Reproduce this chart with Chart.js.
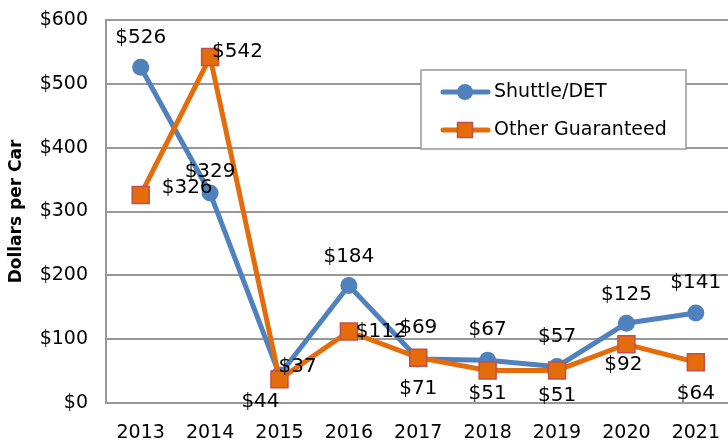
<!DOCTYPE html>
<html>
<head>
<meta charset="utf-8">
<script src="https://cdn.jsdelivr.net/npm/chart.js@4/dist/chart.umd.min.js"></script>
<style>
html, body { margin: 0; padding: 0; overflow: hidden; background: #fff; }
#wrap { width: 728px; height: 443px; overflow: hidden; }
</style>
</head>
<body>
<div id="wrap"><canvas id="chart" width="744" height="443"></canvas></div>
<script>
const years = ["2013", "2014", "2015", "2016", "2017", "2018", "2019", "2020", "2021"];
const shuttle = [526, 329, 44, 184, 69, 67, 57, 125, 141];
const otherGuaranteed = [326, 542, 37, 112, 71, 51, 51, 92, 64];
const seriesNames = ["Shuttle/DET", "Other Guaranteed"];

// where each value label sits relative to its point: [dx, dy, align]
const shuttleLabelPos = [[0,-29,"center"],[0,-21,"center"],[-19,27,"center"],[0,-29,"center"],[0,-31,"center"],[0,-30,"center"],[0,-30,"center"],[0,-28,"center"],[0,-30,"center"]];
const otherLabelPos = [[21,-7,"left"],[2,-5,"left"],[-1,-13,"left"],[7,0,"left"],[0,31,"center"],[0,23,"center"],[0,25,"center"],[-3,21,"center"],[0,32,"center"]];

const FONT = "'DejaVu Sans', sans-serif";
const BLUE = "#4F81BD";
const ORANGE = "#E46C0A";
const GRID = "#989898";

//draws the "$xxx" labels next to each point
const valueLabels = {
    id: "valueLabels",
    afterDatasetsDraw(chart)
    {
        const ctx = chart.ctx;
        const positions = [shuttleLabelPos, otherLabelPos];
        ctx.save();
        ctx.font = "20px " + FONT;
        ctx.fillStyle = "#000";
        ctx.textBaseline = "middle";
        chart.data.datasets.forEach((ds, i) => {
            const meta = chart.getDatasetMeta(i);
            meta.data.forEach((pt, j) => {
                const p = positions[i][j];
                ctx.textAlign = p[2];
                ctx.fillText("$" + ds.data[j], pt.x + p[0], pt.y + p[1]);
            });
        });
        ctx.restore();
    }
};

//legend box inside the plot
const boxLegend = {
    id: "boxLegend",
    afterDraw(chart)
    {
        const ctx = chart.ctx;
        ctx.save();
        ctx.fillStyle = "#fff";
        ctx.fillRect(421, 70, 265, 79);
        ctx.strokeStyle = GRID;
        ctx.lineWidth = 1.5;
        ctx.strokeRect(421, 70, 265, 79);
        const rows = [92, 130];
        chart.data.datasets.forEach((ds, i) => {
            const y = rows[i];
            ctx.strokeStyle = ds.borderColor;
            ctx.lineWidth = 5;
            ctx.lineCap = "round";
            ctx.beginPath();
            ctx.moveTo(443, y);
            ctx.lineTo(488, y);
            ctx.stroke();
            if (ds.pointStyle == "circle")
            {
                ctx.fillStyle = ds.pointBackgroundColor;
                ctx.beginPath();
                ctx.arc(465, y, 8, 0, Math.PI * 2);
                ctx.fill();
            } else
            {
                ctx.fillStyle = ds.pointBackgroundColor;
                ctx.fillRect(457.5, y - 7.5, 15, 15);
                ctx.strokeStyle = ds.pointBorderColor;
                ctx.lineWidth = 1.5;
                ctx.strokeRect(457.5, y - 7.5, 15, 15);
            }
            ctx.fillStyle = "#000";
            ctx.font = "19px " + FONT;
            ctx.textAlign = "left";
            ctx.textBaseline = "middle";
            ctx.fillText(ds.label, 494, y);
        });
        ctx.restore();
    }
};

const data = {
    labels: years,
    datasets: [
        {
            label: seriesNames[0],
            data: shuttle,
            borderColor: BLUE,
            backgroundColor: BLUE,
            borderWidth: 5,
            pointStyle: "circle",
            pointRadius: 8.5,
            pointBackgroundColor: BLUE,
            pointBorderColor: BLUE,
            pointBorderWidth: 0,
            tension: 0,
            order: 2
        },
        {
            label: seriesNames[1],
            data: otherGuaranteed,
            borderColor: ORANGE,
            backgroundColor: ORANGE,
            borderWidth: 5,
            pointStyle: "rect",
            pointRadius: 12,
            pointBackgroundColor: ORANGE,
            pointBorderColor: "#C0504D",
            pointBorderWidth: 1.5,
            tension: 0,
            order: 1
        }
    ]
};

const config = {
    type: "line",
    data: data,
    options: {
        responsive: false,
        animation: false,
        devicePixelRatio: 1,
        layout: { padding: { top: 20, left: 0, right: 0, bottom: 0 } },
        plugins: {
            legend: { display: false },
            tooltip: { enabled: false }
        },
        scales: {
            x: {
                offset: true,
                grid: { display: false },
                border: { display: true, color: GRID, width: 2 },
                ticks: { color: "#000", font: { family: FONT, size: 19 }, padding: 11, maxRotation: 0 },
                afterFit: s => { s.height = 40; }
            },
            y: {
                min: 0,
                max: 600,
                grid: { color: GRID, lineWidth: 2, drawTicks: true, tickLength: 18, tickColor: "rgba(0,0,0,0)" },
                border: { display: true, color: GRID, width: 2 },
                ticks: {
                    stepSize: 100,
                    color: "#000",
                    font: { family: FONT, size: 19 },
                    padding: 0,
                    callback: v => "$" + v
                },
                title: {
                    display: true,
                    text: "Dollars per Car",
                    color: "#000",
                    font: { family: FONT, size: 17, weight: "bold" },
                    padding: { top: 6, bottom: 0 }
                },
                afterFit: s => { s.width = 106; }
            }
        }
    },
    plugins: [valueLabels, boxLegend]
};

new Chart(document.getElementById("chart"), config);
</script>
</body>
</html>
